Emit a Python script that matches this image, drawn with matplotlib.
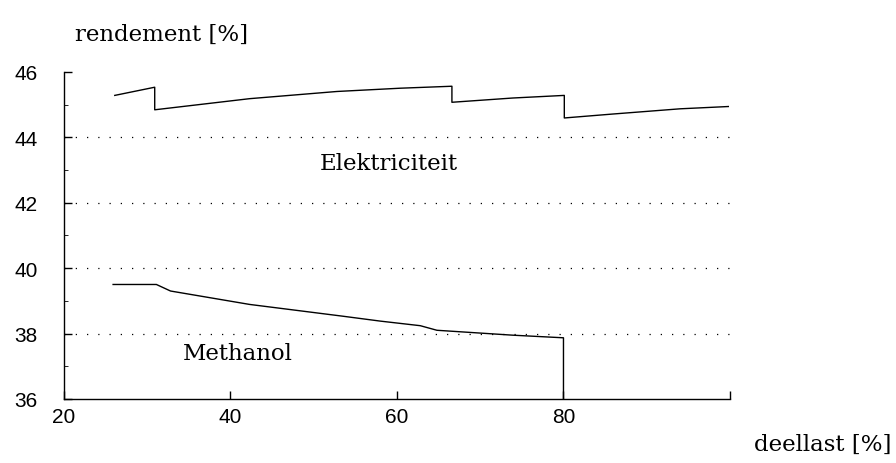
import matplotlib.pyplot as plt
from matplotlib.ticker import MultipleLocator

# Elektriciteit: segments joined by vertical drops at the steps
elek_x1 = [26.1, 30.9]
elek_y1 = [45.28, 45.53]
elek_x2 = [30.9, 42.3, 52.8, 60.4, 66.6]
elek_y2 = [44.84, 45.18, 45.40, 45.50, 45.56]
elek_x3 = [66.6, 73.9, 80.1]
elek_y3 = [45.07, 45.20, 45.28]
elek_x4 = [80.1, 85.9, 94.0, 99.8]
elek_y4 = [44.59, 44.71, 44.87, 44.94]

# Methanol
meth_x = [25.9, 31.1, 32.8, 42.3, 53.5, 58.0, 62.8, 64.8, 73.9, 80.0, 80.0]
meth_y = [39.50, 39.50, 39.30, 38.89, 38.53, 38.38, 38.24, 38.10, 37.95, 37.87, 36.0]

grid_levels = [38, 40, 42, 44]
x_ticks = [20, 40, 60, 80, 100]
x_labels = ["20", "40", "60", "80", ""]
y_ticks = [36, 38, 40, 42, 44, 46]

SERIF = "DejaVu Serif"
SANS = "Liberation Sans"


def main():
    fig = plt.figure(figsize=(8.96, 4.64), dpi=100)
    ax = fig.add_axes([0.0714, 0.138, 0.7433, 0.705])

    ex = elek_x1 + elek_x2 + elek_x3 + elek_x4
    ey = elek_y1 + elek_y2 + elek_y3 + elek_y4
    ax.plot(ex, ey, color="black", linewidth=1.0)
    ax.plot(meth_x, meth_y, color="black", linewidth=1.0)

    for g in grid_levels:
        ax.axhline(g, color="black", linestyle=(0, (1, 8)), linewidth=0.9)

    ax.set_xlim(20, 100)
    ax.set_ylim(36, 46)
    ax.set_xticks(x_ticks)
    ax.set_xticklabels(x_labels, fontsize=15, family=SANS)
    ax.set_yticks(y_ticks)
    ax.set_yticklabels([str(v) for v in y_ticks], fontsize=15, family=SANS)
    ax.yaxis.set_minor_locator(MultipleLocator(1))
    ax.tick_params(axis="both", direction="in", length=6, width=1.0)
    ax.tick_params(axis="x", pad=6)
    ax.tick_params(axis="y", which="minor", direction="in", length=3)
    ax.tick_params(axis="y", pad=19)

    for s in ["top", "right"]:
        ax.spines[s].set_visible(False)
    for s in ["left", "bottom"]:
        ax.spines[s].set_linewidth(1.0)

    ax.text(59, 43.2, "Elektriciteit", fontsize=16.5, family=SERIF, ha="center", va="center")
    ax.text(40.9, 37.4, "Methanol", fontsize=16.5, family=SERIF, ha="center", va="center")

    fig.text(0.084, 0.925, "rendement [%]", fontsize=16.5, family=SERIF, ha="left", va="center")
    fig.text(0.995, 0.041, "deellast [%]", fontsize=16.5, family=SERIF, ha="right", va="center")

    fig.savefig("out.png", dpi=100, facecolor="white")
    plt.close(fig)


if __name__ == "__main__":
    main()
